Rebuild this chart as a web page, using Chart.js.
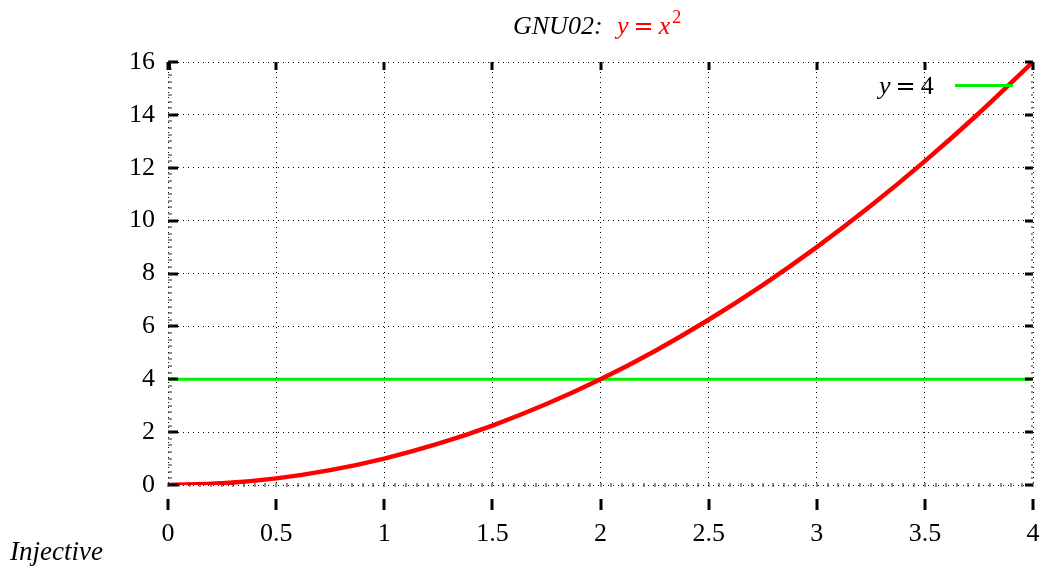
<!DOCTYPE html>
<html>
<head>
<meta charset="utf-8">
<script src="https://cdn.jsdelivr.net/npm/chart.js@4.4.1/dist/chart.umd.min.js"></script>
<style>
  html, body { margin: 0; padding: 0; background: #fff; }
  #wrap { width: 1047px; height: 571px; }
</style>
</head>
<body>
<div id="wrap"><canvas id="gnu02"></canvas></div>
<script>
// values
const curveX = [0, 0.25, 0.5, 0.75, 1, 1.25, 1.5, 1.75, 2, 2.25, 2.5, 2.75, 3, 3.25, 3.5, 3.75, 4];
const curveY = [0, 0.0625, 0.25, 0.5625, 1, 1.5625, 2.25, 3.0625, 4, 5.0625, 6.25, 7.5625, 9, 10.5625, 12.25, 14.0625, 16];
const levelX = [0, 4];
const levelY = [4, 4];
const xTicks = ['0', '0.5', '1', '1.5', '2', '2.5', '3', '3.5', '4'];
const yTicks = ['0', '2', '4', '6', '8', '10', '12', '14', '16'];

const serif = '"Liberation Serif", "DejaVu Serif", serif';

// draws "y = <rhs>" math-style (italic variables, wide equals sign), returns end x
function drawEq(ctx, x, y, size, rhs, rhsItalic) {
    ctx.textAlign = 'left';
    ctx.font = 'italic ' + size + 'px ' + serif;
    ctx.fillText('y', x, y);
    x += ctx.measureText('y').width + 5;
    ctx.font = (size - 2) + 'px "DejaVu Serif", serif';
    ctx.fillText('=', x, y);
    x += ctx.measureText('=').width + 5;
    ctx.font = (rhsItalic ? 'italic ' : '') + size + 'px ' + serif;
    ctx.fillText(rhs, x, y);
    return x + ctx.measureText(rhs).width;
}

const gnuDecor = {
    id: 'gnuDecor',
    afterDraw: function(chart) {
        const ctx = chart.ctx;
        const xs = chart.scales.x;
        const ys = chart.scales.y;
        const area = chart.chartArea;

        ctx.save();
        ctx.fillStyle = '#000';

        // major ticks
        for (let i = 0; i < xTicks.length; i++) {
            const px = Math.round(xs.getPixelForValue(parseFloat(xTicks[i])));
            ctx.fillRect(px - 1.5, area.top, 3, 8);
            ctx.fillRect(px - 1.5, area.bottom + 14, 3, 11);
        }
        for (let i = 0; i < yTicks.length; i++) {
            const py = Math.round(ys.getPixelForValue(parseFloat(yTicks[i])));
            ctx.fillRect(area.left, py - 1.5, 10, 3);
            ctx.fillRect(area.right - 8, py - 1.5, 8, 3);
        }
        ctx.fillRect(area.left, area.top, 3, 8);

        // minor ticks
        ctx.fillStyle = '#222';
        for (let v = 0; v <= 16; v += 0.25) {
            const py = Math.round(ys.getPixelForValue(v));
            ctx.fillRect(area.left, py - 0.5, 4, 1);
            ctx.fillRect(area.right - 2, py - 0.5, 2, 1);
        }
        for (let v = 0; v <= 4; v += 0.05) {
            const px = Math.round(xs.getPixelForValue(v));
            ctx.fillRect(px - 0.5, area.bottom - 2, 1, 4);
        }

        // title
        ctx.textBaseline = 'alphabetic';
        const big = 26;
        ctx.fillStyle = '#000';
        ctx.textAlign = 'left';
        ctx.font = 'italic ' + big + 'px ' + serif;
        ctx.fillText('GNU02:', 513, 34);
        ctx.fillStyle = '#ff0000';
        const tEnd = drawEq(ctx, 617, 34, big, 'x', true);
        ctx.font = '18px ' + serif;
        ctx.fillText('2', tEnd + 2, 23);

        // legend
        ctx.fillStyle = '#000';
        drawEq(ctx, 879, 94, big, '4', false);
        ctx.strokeStyle = '#00ee00';
        ctx.lineWidth = 3;
        ctx.beginPath();
        ctx.moveTo(955, 85.5);
        ctx.lineTo(1013, 85.5);
        ctx.stroke();

        // bottom-left label
        ctx.textAlign = 'left';
        ctx.font = 'italic 27px ' + serif;
        ctx.fillText('Injective', 10, 560);

        ctx.restore();
    }
};

new Chart(document.getElementById('gnu02'), {
    type: 'scatter',
    data: {
        datasets: [
            {
                label: 'y = 4',
                data: levelX.map((x, i) => ({ x: x, y: levelY[i] })),
                showLine: true,
                borderColor: '#00ee00',
                borderWidth: 3,
                pointRadius: 0,
                order: 2
            },
            {
                label: 'y = x^2',
                data: curveX.map((x, i) => ({ x: x, y: curveY[i] })),
                showLine: true,
                borderColor: '#ff0000',
                borderWidth: 4.5,
                pointRadius: 0,
                cubicInterpolationMode: 'monotone',
                order: 1
            }
        ]
    },
    options: {
        responsive: true,
        maintainAspectRatio: false,
        animation: false,
        events: [],
        layout: { padding: { top: 62, right: 14, left: 0, bottom: 0 } },
        plugins: {
            legend: { display: false },
            tooltip: { enabled: false }
        },
        scales: {
            x: {
                type: 'linear',
                min: 0,
                max: 4,
                afterBuildTicks: function(scale) {
                    scale.ticks = xTicks.map(v => ({ value: parseFloat(v) }));
                },
                afterFit: function(scale) {
                    scale.height = 86;
                    scale.paddingLeft = 0;
                    scale.paddingRight = 0;
                },
                ticks: {
                    padding: 34,
                    color: '#000',
                    font: { family: serif, size: 26 },
                    callback: (v, i) => xTicks[i]
                },
                grid: { color: '#000', lineWidth: 1, drawTicks: false },
                border: { display: false, dash: [1, 4] }
            },
            y: {
                type: 'linear',
                min: 0,
                max: 16,
                afterBuildTicks: function(scale) {
                    scale.ticks = yTicks.map(v => ({ value: parseFloat(v) }));
                },
                afterFit: function(scale) {
                    scale.width = 168;
                    scale.paddingTop = 0;
                    scale.paddingBottom = 0;
                },
                ticks: {
                    padding: 13,
                    color: '#000',
                    font: { family: serif, size: 26 },
                    callback: (v, i) => yTicks[i]
                },
                grid: { color: '#000', lineWidth: 1, drawTicks: false },
                border: { display: false, dash: [1, 4] }
            }
        }
    },
    plugins: [gnuDecor]
});
</script>
</body>
</html>
